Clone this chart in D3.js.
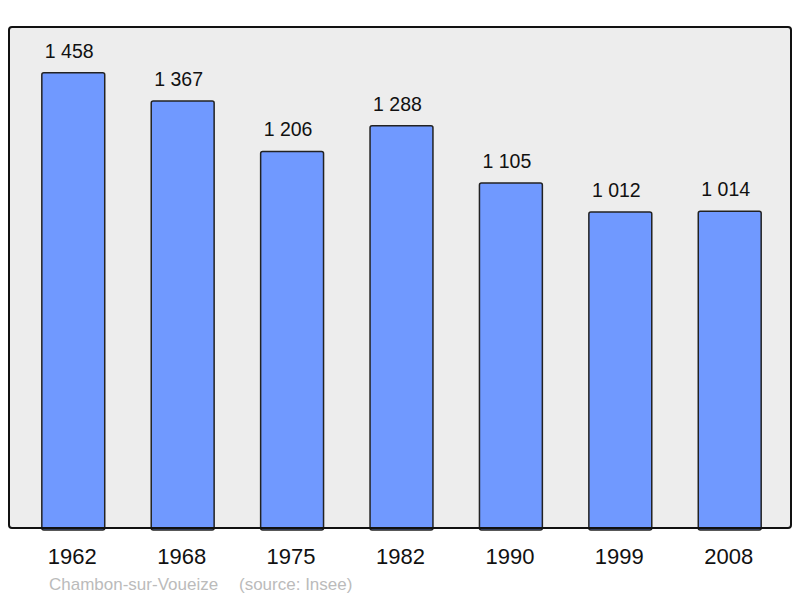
<!DOCTYPE html>
<html>
<head>
<meta charset="utf-8">
<script src="https://cdn.jsdelivr.net/npm/d3@7"></script>
<style>
  body { margin: 0; background: #fff; }
  text { font-family: "Liberation Sans", Arial, sans-serif; }
</style>
</head>
<body>
<script>
// Data
var years = ["1962", "1968", "1975", "1982", "1990", "1999", "2008"];
var population = [1458, 1367, 1206, 1288, 1105, 1012, 1014];
var commune = "Chambon-sur-Voueize";
var source = "(source: Insee)";

var svgWidth = 800;
var svgHeight = 598;

// Panel box
var panel = { left: 9, top: 27, right: 791, bottom: 528 };

var svg = d3.select("body")
  .append("svg")
  .attr("width", svgWidth)
  .attr("height", svgHeight);

var xScale = d3.scaleBand()
  .domain(years)
  .range([9, 794])
  .paddingInner(0.425)
  .paddingOuter(0.3);

var yScale = d3.scaleLinear()
  .domain([0, 1458])
  .range([panel.bottom, 72.7]);

// background panel
svg.append("rect")
  .attr("x", panel.left)
  .attr("y", panel.top)
  .attr("width", panel.right - panel.left)
  .attr("height", panel.bottom - panel.top)
  .attr("rx", 3)
  .attr("fill", "#ededed")
  .attr("stroke", "none");

// bars
svg.selectAll(".bar")
  .data(population)
  .enter()
  .append("rect")
  .attr("class", "bar")
  .attr("x", (d, i) => xScale(years[i]))
  .attr("y", d => yScale(d))
  .attr("width", xScale.bandwidth())
  .attr("height", d => panel.bottom - yScale(d) + 2)
  .attr("rx", 2)
  .attr("fill", "#7099ff")
  .attr("stroke", "#222")
  .attr("stroke-width", 1.5);

// panel frame on top
svg.append("rect")
  .attr("x", panel.left)
  .attr("y", panel.top)
  .attr("width", panel.right - panel.left)
  .attr("height", panel.bottom - panel.top)
  .attr("rx", 3)
  .attr("fill", "none")
  .attr("stroke", "#111")
  .attr("stroke-width", 2);

// value labels
svg.selectAll(".val")
  .data(population)
  .enter()
  .append("text")
  .attr("class", "val")
  .attr("x", (d, i) => xScale(years[i]) + xScale.bandwidth() / 2 - 4)
  .attr("y", d => yScale(d) - 15)
  .attr("text-anchor", "middle")
  .attr("font-size", "19.5px")
  .attr("fill", "#111")
  .text(d => d3.format(",")(d).replace(",", " "));

// x axis labels
var bottomAxis = d3.axisBottom(xScale).tickSize(0).tickPadding(20);
var axisG = svg.append("g")
  .attr("transform", `translate(0, ${panel.bottom})`)
  .call(bottomAxis);
axisG.select(".domain").remove();
axisG.selectAll("text")
  .attr("font-size", "22px")
  .attr("fill", "#111")
  .attr("dy", "0.71em")
  .attr("y", 20)
  .attr("dx", -1)
  .style("font-family", "'Liberation Sans', Arial, sans-serif");

// footer
svg.append("text")
  .attr("x", 49)
  .attr("y", 590)
  .attr("font-size", "17px")
  .attr("fill", "#bbbbbb")
  .text(commune);

svg.append("text")
  .attr("x", 239)
  .attr("y", 590)
  .attr("font-size", "17px")
  .attr("fill", "#bbbbbb")
  .text(source);
</script>
</body>
</html>
